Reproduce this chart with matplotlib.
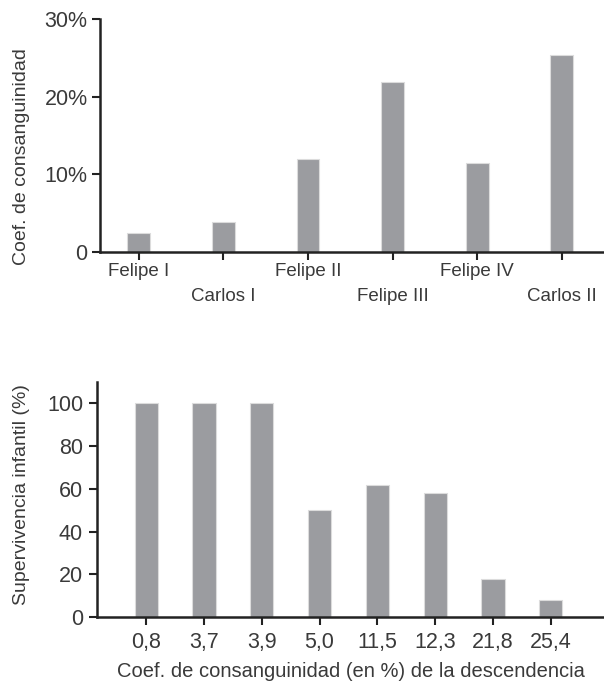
import matplotlib
matplotlib.use("Agg")
import matplotlib.pyplot as plt

# datos: coeficiente de consanguinidad de los reyes
reyes = ["Felipe I", "Carlos I", "Felipe II", "Felipe III", "Felipe IV", "Carlos II"]
coef_reyes = [2.5, 3.9, 12.0, 21.9, 11.4, 25.4]

# datos: supervivencia infantil según coeficiente de la descendencia
coef_desc = ["0,8", "3,7", "3,9", "5,0", "11,5", "12,3", "21,8", "25,4"]
supervivencia = [100, 100, 100, 50, 62, 58, 18, 8]

plt.rcParams["font.family"] = ["Liberation Sans", "DejaVu Sans"]
gris = "#9b9ca0"
txt = "#3a3a3a"
eje = "#222222"

fig = plt.figure(figsize=(6.04, 6.83), dpi=100)
W, H = 604, 683

def estilo(ax):
    for s in ["top", "right"]:
        ax.spines[s].set_visible(False)
    for s in ["left", "bottom"]:
        ax.spines[s].set_linewidth(1.8)
        ax.spines[s].set_color(eje)
    ax.tick_params(axis="both", colors=eje, width=1.5, length=6, labelcolor=txt)

# --- gráfico superior ---
ax1 = fig.add_axes([100 / W, 1 - 252 / H, 504 / W, 233 / H])
x1 = range(len(reyes))
ax1.bar(x1, coef_reyes, width=0.27, color=gris, edgecolor="#dcdcdc", linewidth=0.8, zorder=2)
ax1.set_xlim(-0.46, 5.5)
ax1.set_ylim(0, 30)
ax1.set_yticks([0, 10, 20, 30])
ax1.set_yticklabels(["0", "10%", "20%", "30%"], fontsize=15.5)
ax1.set_xticks(list(x1))
ax1.set_xticklabels(reyes, fontsize=13.5)
estilo(ax1)
ax1.tick_params(axis="y", pad=3)
for i, t in enumerate(ax1.xaxis.get_major_ticks()):
    t.set_pad(2 if i % 2 == 0 else 20)
ax1.set_ylabel("Coef. de consanguinidad", fontsize=14, color=txt)
ax1.yaxis.set_label_coords(-0.139, 0.408)

# --- gráfico inferior ---
ax2 = fig.add_axes([97 / W, 1 - 617 / H, 507 / W, 235 / H])
x2 = range(len(coef_desc))
ax2.bar(x2, supervivencia, width=0.4, color=gris, edgecolor="#dcdcdc", linewidth=0.8, zorder=2)
ax2.set_xlim(-0.85, 7.92)
ax2.set_ylim(0, 110)
ax2.set_yticks([0, 20, 40, 60, 80, 100])
ax2.set_yticklabels(["0", "20", "40", "60", "80", "100"], fontsize=15.5)
ax2.set_xticks(list(x2))
ax2.set_xticklabels(coef_desc, fontsize=15.5)
estilo(ax2)
ax2.tick_params(axis="y", pad=4)
ax2.tick_params(axis="x", pad=5)
ax2.set_xlabel("Coef. de consanguinidad (en %) de la descendencia", fontsize=14.5,
               color=txt, labelpad=6)
ax2.set_ylabel("Supervivencia infantil (%)", fontsize=14, color=txt)
ax2.yaxis.set_label_coords(-0.132, 0.523)

fig.savefig("out.png", dpi=100)
